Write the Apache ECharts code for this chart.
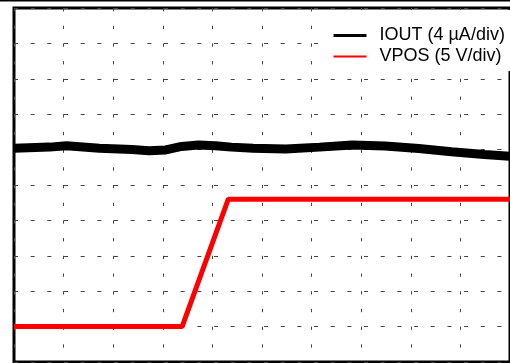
<!DOCTYPE html>
<html><head><meta charset="utf-8">
<script src="https://cdn.jsdelivr.net/npm/echarts@6/dist/echarts.min.js"></script>
<style>html,body{margin:0;padding:0;background:#fff}#c{width:510px;height:363px}</style>
</head><body><div id="c"></div>
<script>
// x in time divisions, y in screen divisions (0 = bottom, 10 = top)
const ioutTime = [0, 0.72, 1.06, 1.72, 2.38, 2.72, 3.06, 3.38, 3.72, 4.06, 4.38, 4.82, 5.48, 6.16, 6.82, 7.48, 8.16, 8.82, 9.48, 9.92, 10];
const ioutDiv  = [6.04, 6.07, 6.11, 6.04, 6.00, 5.97, 5.99, 6.09, 6.13, 6.11, 6.07, 6.04, 6.02, 6.07, 6.13, 6.10, 6.03, 5.94, 5.86, 5.82, 5.81];
const vposTime = [0, 3.39, 4.32, 10];
const vposDiv  = [1.0, 1.0, 4.6, 4.6];
const seriesNames = ['IOUT (4 \u00b5A/div)', 'VPOS (5 V/div)'];

const chart = echarts.init(document.getElementById('c'), null, {renderer: 'canvas'});
chart.setOption({
  animation: false,
  backgroundColor: '#fff',
  grid: {left: 14, top: 8, width: 500, height: 354, show: true, borderColor: '#000', borderWidth: 3, backgroundColor: '#fff'},
  graphic: [{type: 'rect', shape: {x: 0, y: 0, width: 510, height: 1.5}, style: {fill: '#000'}, silent: true}],
  xAxis: {type: 'value', min: 0, max: 10, interval: 1,
    axisLine: {show: false}, axisTick: {show: false}, axisLabel: {show: false},
    splitLine: {show: true, lineStyle: {color: '#444', width: 1, type: [3.3, 14.4], dashOffset: 0}}},
  yAxis: {type: 'value', min: 0, max: 10, interval: 1,
    axisLine: {show: false}, axisTick: {show: false}, axisLabel: {show: false},
    splitLine: {show: true, lineStyle: {color: '#444', width: 1, type: [4, 12.67]}}},
  legend: {orient: 'vertical', left: 325, top: 10, itemWidth: 33, itemHeight: 14, itemGap: 0,
    padding: [15, 12, 4, 7], backgroundColor: '#fff',
    textStyle: {fontFamily: 'Liberation Sans', fontSize: 18, color: '#000', lineHeight: 21, padding: [0, 0, 0, 8]},
    data: [
      {name: seriesNames[0], lineStyle: {width: 3}, itemStyle: {color: 'transparent', borderWidth: 0, opacity: 0}},
      {name: seriesNames[1], lineStyle: {width: 2}, itemStyle: {color: 'transparent', borderWidth: 0, opacity: 0}}
    ]},
  series: [
    {type: 'line', name: seriesNames[0], data: ioutTime.map((t, i) => [t, ioutDiv[i]]),
      symbol: 'none', lineStyle: {color: '#000', width: 9}, itemStyle: {color: '#000'}, silent: true},
    {type: 'line', name: seriesNames[1], data: vposTime.map((t, i) => [t, vposDiv[i]]),
      symbol: 'none', lineStyle: {color: '#ff0000', width: 5}, itemStyle: {color: '#ff0000'}, silent: true}
  ]
});
</script></body></html>
